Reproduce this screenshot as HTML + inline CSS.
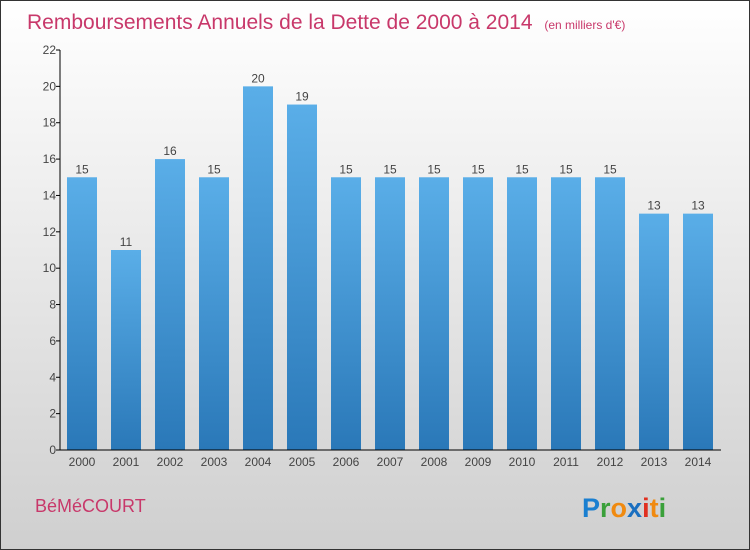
<!DOCTYPE html>
<html><head><meta charset="utf-8"><style>
html,body{margin:0;padding:0}
body{width:750px;height:550px;overflow:hidden;font-family:"Liberation Sans",sans-serif}
#frame{position:absolute;left:0;top:0;width:748px;height:548px;border:1px solid #333;background:linear-gradient(#ffffff,#cfcfcf)}
</style></head><body>
<div id="frame"></div>
<svg id="chart" width="750" height="550" style="position:absolute;left:0;top:0">
<text x="27" y="29" font-size="21" fill="#c8386a">Remboursements Annuels de la Dette de 2000 à 2014 <tspan font-size="12" dx="6">(en milliers d'€)</tspan></text>
<text x="35" y="512" font-size="18" fill="#c8386a">BéMéCOURT</text>
<text x="582" y="517" font-size="27" font-weight="bold"><tspan fill="#1a7fd0">P</tspan><tspan fill="#3aa03a">r</tspan><tspan fill="#f08a10">o</tspan><tspan fill="#1a6fc0">x</tspan><tspan fill="#e03020">i</tspan><tspan fill="#f08a10">t</tspan><tspan fill="#3aa03a">i</tspan></text>
<defs><linearGradient id="bg" x1="0" y1="0" x2="0" y2="1"><stop offset="0" stop-color="#5aaee8"/><stop offset="1" stop-color="#2a78b8"/></linearGradient></defs>
<g id="plot"></g>
</svg>
<script>
const categories=["2000","2001","2002","2003","2004","2005","2006","2007","2008","2009","2010","2011","2012","2013","2014"];
const values=[15,11,16,15,20,19,15,15,15,15,15,15,15,13,13];
const yTicks=[0,2,4,6,8,10,12,14,16,18,20,22];
const NS="http://www.w3.org/2000/svg";
const g=document.getElementById('plot');
const x0=60,y0=450,yTop=50,yMax=22,step=44,first=82,bw=30;
const y=v=>y0-(v/yMax)*(y0-yTop);
const xc=i=>first+i*step;
function mk(t,a){const e=document.createElementNS(NS,t);for(const k in a)e.setAttribute(k,a[k]);g.appendChild(e);return e;}
categories.forEach((c,i)=>{
 const r=mk('rect',{x:xc(i)-bw/2,y:y(values[i]),width:bw,height:y0-y(values[i]),fill:'url(#bg)'});
 
 
 const t=mk('text',{x:xc(i),y:y(values[i])-4,'font-size':12,'text-anchor':'middle',fill:'#444'});
 t.textContent=values[i];
 
 
 const l=mk('text',{x:xc(i),y:y0+16,'font-size':12,'text-anchor':'middle',fill:'#444'});
 l.textContent=c;
 
 
});
yTicks.forEach(v=>{
 mk('line',{x1:x0-4,x2:x0,y1:y(v),y2:y(v),stroke:'#000'});
 const t=mk('text',{x:x0-4,y:y(v)+4,'font-size':12,'text-anchor':'end',fill:'#444'});
 t.textContent=v;
 
 
});
const ya=mk('line',{x1:x0,x2:x0,y1:yTop,y2:y0,stroke:'#000'});


const xa=mk('line',{x1:x0,x2:721,y1:y0,y2:y0,stroke:'#000'});


</script>
</body></html>
